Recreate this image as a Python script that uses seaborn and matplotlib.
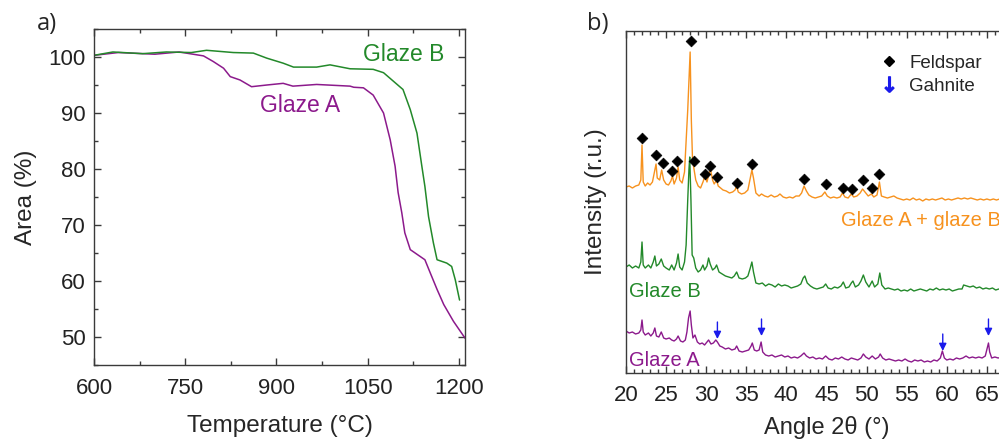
import matplotlib
matplotlib.use("Agg")
import matplotlib.pyplot as plt
from matplotlib.lines import Line2D
from matplotlib.ticker import MultipleLocator
import seaborn as sns
import pandas as pd

# ---- panel a): area vs temperature ----
temp_a = [600, 640, 700, 740, 780, 796, 813, 824, 840, 859, 884, 911, 927, 966, 1021, 1027,
          1043, 1059, 1076, 1087, 1095, 1100, 1106, 1111, 1120, 1136, 1144, 1153, 1164, 1175,
          1191, 1210]
area_a = [100.3, 100.8, 100.5, 100.9, 100.2, 99.2, 98.0, 96.5, 95.9, 94.7, 95.0, 95.3, 94.8,
          95.1, 94.8, 94.6, 94.5, 93.2, 90.0, 85.2, 80.5, 75.8, 72.2, 68.6, 65.6, 64.4, 63.8,
          61.4, 58.5, 55.8, 52.8, 49.8]

temp_b = [600, 631, 680, 719, 760, 785, 829, 862, 884, 911, 928, 966, 988, 1021, 1059, 1076,
          1092, 1108, 1120, 1131, 1139, 1144, 1150, 1158, 1164, 1180, 1188, 1194, 1201]
area_b = [100.3, 100.9, 100.6, 100.9, 100.8, 101.2, 100.8, 100.7, 99.8, 98.9, 98.2, 98.2,
          98.6, 97.9, 97.8, 97.2, 95.7, 94.2, 90.6, 86.4, 80.5, 76.9, 71.5, 66.8, 63.8, 63.2,
          62.6, 60.2, 56.6]

# ---- panel b): XRD patterns (offset, arbitrary units) ----
mix_angle = [20.0, 20.4, 20.8, 21.2, 21.6, 21.85, 22.0, 22.15, 22.4, 22.7, 23.0, 23.3, 23.6,
             23.75, 23.9, 24.2, 24.45, 24.7, 25.0, 25.3, 25.6, 25.8, 26.0, 26.3, 26.5, 26.7,
             27.0, 27.3, 27.5, 27.7, 27.85, 28.0, 28.15, 28.3, 28.5, 28.7, 29.0, 29.3, 29.6,
             29.85, 30.1, 30.4, 30.55, 30.8, 31.0, 31.3, 31.5, 31.8, 32.1, 32.5, 32.9, 33.3,
             33.6, 33.8, 34.0, 34.4, 34.8, 35.2, 35.5, 35.7, 35.9, 36.2, 36.6, 36.9, 37.3,
             37.7, 38.1, 38.5, 38.9, 39.2, 39.6, 40.0, 40.4, 40.8, 41.2, 41.6, 41.9, 42.2,
             42.5, 42.8, 43.2, 43.6, 44.0, 44.4, 44.8, 45.1, 45.5, 45.9, 46.3, 46.7, 47.0,
             47.3, 47.7, 48.1, 48.4, 48.8, 49.2, 49.5, 49.8, 50.2, 50.6, 50.9, 51.3, 51.6,
             51.85, 52.2, 52.6, 53.0, 53.4, 53.8, 54.2, 54.6, 55.0, 55.4, 55.8, 56.2, 56.6,
             57.0, 57.4, 57.8, 58.2, 58.6, 59.0, 59.4, 59.8, 60.2, 60.6, 61.0, 61.4, 61.8,
             62.2, 62.6, 63.0, 63.4, 63.8, 64.2, 64.6, 65.0, 65.4, 65.8, 66.2, 66.6, 67.0]
mix_int = [186, 187, 185, 187, 188, 193, 228, 191, 187, 190, 188, 191, 203, 209, 195, 193, 203,
           193, 189, 188, 192, 197, 189, 195, 206, 193, 190, 201, 233, 263, 293, 321, 253, 213,
           203, 193, 187, 185, 191, 197, 191, 201, 203, 193, 189, 193, 187, 185, 183, 182, 180,
           181, 183, 187, 181, 179, 180, 183, 195, 203, 195, 180, 177, 179, 177, 176, 178, 176,
           177, 179, 176, 175, 176, 175, 177, 177, 180, 187, 182, 178, 176, 175, 176, 177, 181,
           177, 175, 176, 175, 176, 180, 176, 175, 179, 176, 177, 180, 184, 181, 177, 179, 176,
           178, 191, 177, 176, 175, 176, 177, 175, 174, 173, 174, 173, 175, 173, 174, 172, 174,
           173, 174, 173, 174, 175, 173, 174, 173, 174, 175, 174, 175, 174, 175, 174, 173, 174,
           173, 174, 173, 174, 173, 174, 173]

gb_angle = [20.0, 20.4, 20.8, 21.2, 21.6, 21.85, 22.0, 22.15, 22.4, 22.8, 23.1, 23.4, 23.6,
            23.8, 24.1, 24.4, 24.7, 25.0, 25.4, 25.7, 26.0, 26.3, 26.5, 26.7, 27.0, 27.3, 27.5,
            27.7, 27.85, 27.95, 28.1, 28.25, 28.45, 28.7, 29.0, 29.3, 29.6, 29.8, 30.1, 30.3,
            30.5, 30.8, 31.1, 31.3, 31.6, 32.0, 32.4, 32.8, 33.2, 33.5, 33.8, 34.1, 34.5, 34.9,
            35.2, 35.5, 35.7, 35.9, 36.2, 36.6, 37.0, 37.4, 37.8, 38.2, 38.6, 39.0, 39.4, 39.8,
            40.2, 40.6, 41.0, 41.4, 41.8, 42.1, 42.3, 42.6, 43.0, 43.4, 43.8, 44.2, 44.6, 44.9,
            45.2, 45.6, 46.0, 46.4, 46.8, 47.1, 47.4, 47.8, 48.1, 48.3, 48.6, 49.0, 49.3, 49.6,
            49.9, 50.3, 50.7, 51.0, 51.4, 51.65, 51.9, 52.3, 52.7, 53.1, 53.5, 53.9, 54.3, 54.7,
            55.1, 55.5, 55.9, 56.3, 56.7, 57.1, 57.5, 57.9, 58.3, 58.7, 59.1, 59.5, 59.9, 60.3,
            60.7, 61.1, 61.5, 61.9, 62.1, 62.5, 62.9, 63.3, 63.7, 64.1, 64.5, 64.9, 65.3, 65.7,
            66.1, 66.5, 67.0]
gb_int = [106, 108, 105, 107, 105, 111, 131, 108, 105, 108, 105, 111, 117, 107, 109, 114, 107,
          105, 103, 108, 103, 110, 119, 106, 103, 111, 128, 173, 203, 216, 173, 118, 115, 105,
          101, 103, 108, 103, 107, 115, 109, 103, 105, 108, 101, 99, 97, 96, 95, 97, 101, 95,
          94, 95, 97, 105, 111, 101, 90, 89, 90, 87, 89, 88, 86, 89, 87, 88, 87, 85, 86, 87,
          89, 95, 97, 90, 87, 85, 84, 85, 86, 89, 85, 84, 86, 85, 87, 91, 85, 86, 90, 92, 86,
          88, 92, 98, 91, 86, 92, 86, 89, 100, 88, 84, 85, 84, 83, 84, 82, 83, 82, 84, 82, 83,
          84, 83, 82, 84, 83, 85, 83, 84, 83, 84, 82, 83, 84, 84, 88, 87, 86, 87, 85, 86, 84,
          85, 84, 85, 83, 84, 83]

ga_angle = [20.0, 20.4, 20.8, 21.2, 21.6, 21.85, 22.0, 22.15, 22.4, 22.8, 23.1, 23.4, 23.6,
            23.8, 24.1, 24.4, 24.7, 25.0, 25.4, 25.7, 26.0, 26.3, 26.5, 26.8, 27.1, 27.4, 27.6,
            27.8, 28.0, 28.15, 28.35, 28.6, 28.9, 29.2, 29.5, 29.8, 30.1, 30.3, 30.6, 30.9,
            31.2, 31.4, 31.7, 32.0, 32.4, 32.8, 33.2, 33.6, 33.8, 34.1, 34.5, 34.9, 35.3, 35.6,
            35.75, 36.0, 36.3, 36.6, 36.85, 37.05, 37.4, 37.8, 38.2, 38.6, 39.0, 39.4, 39.8,
            40.2, 40.6, 41.0, 41.4, 41.8, 42.2, 42.5, 42.9, 43.3, 43.7, 44.1, 44.5, 44.9, 45.3,
            45.7, 46.1, 46.5, 46.9, 47.3, 47.7, 48.1, 48.5, 48.9, 49.3, 49.6, 49.9, 50.3, 50.7,
            51.1, 51.5, 51.7, 52.0, 52.4, 52.8, 53.2, 53.6, 54.0, 54.4, 54.8, 55.2, 55.6, 56.0,
            56.4, 56.8, 57.2, 57.6, 58.0, 58.4, 58.8, 59.2, 59.45, 59.7, 60.0, 60.4, 60.8, 61.2,
            61.6, 62.0, 62.4, 62.8, 63.2, 63.6, 64.0, 64.4, 64.8, 65.05, 65.2, 65.35, 65.6,
            66.0, 66.4, 67.0]
ga_int = [42, 40, 41, 39, 40, 43, 53, 41, 38, 40, 37, 40, 45, 37, 36, 41, 35, 34, 35, 33, 32,
          34, 37, 32, 31, 33, 41, 55, 62, 48, 35, 38, 31, 29, 30, 28, 31, 33, 29, 30, 33, 31,
          27, 26, 24, 25, 23, 24, 27, 22, 21, 22, 23, 27, 30, 23, 22, 23, 31, 21, 18, 17, 18,
          16, 17, 18, 16, 17, 15, 16, 15, 17, 20, 17, 15, 16, 14, 15, 14, 17, 14, 13, 15, 14,
          16, 14, 13, 15, 14, 13, 15, 19, 16, 14, 17, 14, 16, 19, 15, 13, 14, 13, 12, 13, 12,
          14, 12, 11, 13, 12, 13, 11, 12, 11, 13, 12, 15, 22, 15, 13, 14, 13, 15, 14, 15, 17,
          15, 16, 15, 16, 15, 17, 25, 30, 21, 15, 16, 15, 16]

feldspar_angle = [21.95, 23.7, 24.6, 25.7, 26.4, 28.07, 28.5, 29.85, 30.5, 31.4, 33.8, 35.7,
                  42.2, 44.9, 47.1, 48.2, 49.5, 50.7, 51.6]
feldspar_y = [235, 218, 210, 202, 212, 332, 212, 199, 207, 196, 190, 209, 194, 189, 185, 184,
              193, 185, 199]

gahnite_angle = [31.4, 36.9, 59.5, 65.2]
gahnite_y = [34, 37, 22, 37]

PURPLE = "#8c1a8c"
GREEN = "#23892a"
ORANGE = "#f7921e"
BLUE = "#1a1aeb"
AXCOL = "#3a3a3a"

sns.set_theme(style="ticks")
plt.rcParams["font.family"] = ["Liberation Sans", "DejaVu Sans"]
plt.rcParams["axes.edgecolor"] = AXCOL
plt.rcParams["axes.linewidth"] = 1.0
plt.rcParams["xtick.color"] = AXCOL
plt.rcParams["ytick.color"] = AXCOL
plt.rcParams["xtick.labelcolor"] = "#222222"
plt.rcParams["ytick.labelcolor"] = "#222222"

fig = plt.figure(figsize=(9.99, 4.41), dpi=100)
ax1 = fig.add_axes([0.0941, 0.1723, 0.3714, 0.7619])
ax2 = fig.add_axes([0.6266, 0.1542, 0.4014, 0.7755])

# panel a
df_a = pd.DataFrame({"T": temp_a, "Area": area_a})
df_b = pd.DataFrame({"T": temp_b, "Area": area_b})
sns.lineplot(data=df_a, x="T", y="Area", ax=ax1, color=PURPLE, lw=1.1, estimator=None)
sns.lineplot(data=df_b, x="T", y="Area", ax=ax1, color=GREEN, lw=1.1, estimator=None)
ax1.set_xlim(600, 1210)
ax1.set_ylim(45, 105)
ax1.xaxis.set_major_locator(MultipleLocator(150))
ax1.xaxis.set_minor_locator(MultipleLocator(75))
ax1.yaxis.set_major_locator(MultipleLocator(10))
ax1.yaxis.set_minor_locator(MultipleLocator(5))
ax1.tick_params(which="both", direction="in", top=True, right=True, labelsize=16)
ax1.tick_params(which="major", length=5, width=1)
ax1.tick_params(which="minor", length=3, width=1)
ax1.tick_params(axis="x", pad=9)
ax1.tick_params(axis="y", pad=6)
ax1.set_xlabel("Temperature (°C)", fontsize=17.5, labelpad=12)
ax1.set_ylabel("Area (%)", fontsize=17.5, labelpad=8)
ax1.text(1042, 100.4, "Glaze B", color=GREEN, fontsize=16.5, va="center", ha="left")
ax1.text(873, 91.3, "Glaze A", color=PURPLE, fontsize=16.5, va="center", ha="left")
fig.text(0.037, 0.945, "a)", fontsize=17, family="Open Sans", va="center")

# panel b
for ang, inten, col in [(mix_angle, mix_int, ORANGE), (gb_angle, gb_int, GREEN),
                        (ga_angle, ga_int, PURPLE)]:
    sns.lineplot(x=ang, y=inten, ax=ax2, color=col, lw=1.0, estimator=None)
sns.scatterplot(x=feldspar_angle, y=feldspar_y, ax=ax2, marker="D", color="black", s=30,
                edgecolor="black", linewidth=0.5, zorder=5)
for ang, tip in zip(gahnite_angle, gahnite_y):
    ax2.annotate("", xy=(ang, tip), xytext=(ang, tip + 17),
                 arrowprops=dict(arrowstyle="-|>", color=BLUE, lw=1.0, mutation_scale=11,
                                 shrinkA=0, shrinkB=0))
ax2.set_xlim(20, 70)
ax2.set_ylim(0, 342)
ax2.xaxis.set_major_locator(MultipleLocator(5))
ax2.xaxis.set_minor_locator(MultipleLocator(1))
ax2.tick_params(axis="x", which="both", direction="in", top=True, labelsize=16, pad=9)
ax2.tick_params(axis="x", which="major", length=5, width=1)
ax2.tick_params(axis="x", which="minor", length=3, width=1)
ax2.tick_params(axis="y", left=False, labelleft=False)
ax2.set_xlabel("Angle 2θ (°)", fontsize=17, labelpad=7)
ax2.set_ylabel("Intensity (r.u.)", fontsize=17.5, labelpad=14)
ax2.text(46.8, 152, "Glaze A + glaze B", color=ORANGE, fontsize=14.5, va="center", ha="left")
ax2.text(20.4, 81, "Glaze B", color=GREEN, fontsize=14.5, va="center", ha="left")
ax2.text(20.4, 12, "Glaze A", color=PURPLE, fontsize=14.5, va="center", ha="left")

handles = [Line2D([], [], ls="none", marker="D", color="black", markersize=5.5),
           Line2D([], [], ls="none", marker=r"$\downarrow$", color=BLUE, markersize=11)]
ax2.legend(handles, ["Feldspar", "Gahnite"], loc="upper left", bbox_to_anchor=(0.59, 0.98),
           frameon=False, fontsize=13.5, handlelength=1.0, handletextpad=0.6, labelspacing=0.3)
fig.text(0.588, 0.945, "b)", fontsize=17, family="Open Sans", va="center")

fig.savefig("out.png", dpi=100)
